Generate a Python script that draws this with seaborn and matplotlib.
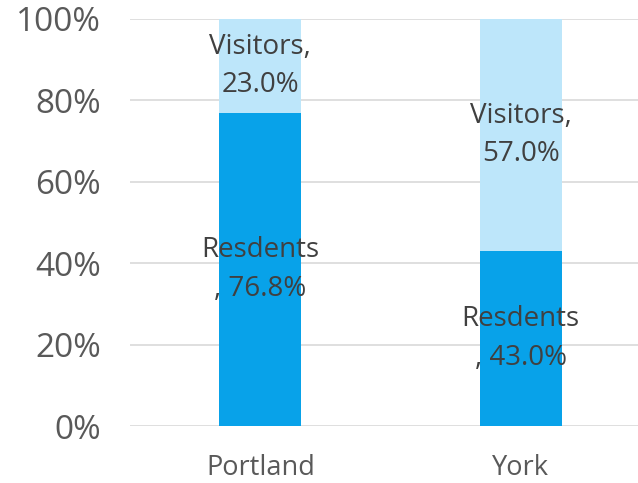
import numpy as np
import pandas as pd
import matplotlib
matplotlib.use("Agg")
import matplotlib.pyplot as plt
import seaborn as sns

# Data
cities = ["Portland", "York"]
residents = [76.8, 43.0]
visitors = [23.0, 57.0]

res = np.array(residents)
vis = np.array(visitors)
total = res + vis
res_pct = res / total * 100
top_pct = (res + vis) / total * 100

df = pd.DataFrame({"city": cities, "res": res_pct, "top": top_pct})

sns.set_style("white")
plt.rcParams["font.family"] = ["Open Sans", "DejaVu Sans"]

fig = plt.figure(figsize=(6.38, 4.83), dpi=100)
ax = fig.add_axes([0.204, 0.118, 0.796, 0.843])

dark = "#08A2E9"
light = "#BDE6FA"

# stacked: draw full height in light, then residents on top in dark
sns.barplot(data=df, x="city", y="top", color=light, width=0.315, ax=ax,
            saturation=1, linewidth=0, zorder=2)
sns.barplot(data=df, x="city", y="res", color=dark, width=0.315, ax=ax,
            saturation=1, linewidth=0, zorder=3)

ax.set_ylim(0, 100)
ax.set_xlim(-0.5, 1.45)
ax.set_yticks(range(0, 101, 20))
ax.set_yticklabels([f"{t}%" for t in range(0, 101, 20)])
ax.yaxis.grid(True, color="#D9D9D9", linewidth=1.2, zorder=0)
ax.set_axisbelow(True)
for s in ax.spines.values():
    s.set_visible(False)
ax.set_xlabel("")
ax.set_ylabel("")
ax.tick_params(axis="y", labelsize=24, colors="#595959", length=0, pad=21)
ax.tick_params(axis="x", labelsize=19.5, colors="#595959", length=0, pad=20)

lab_color = "#404040"
for i in range(len(cities)):
    ax.text(i, res_pct[i] / 2, f"Resdents\n, {residents[i]:.1f}%",
            ha="center", va="center", fontsize=20, color=lab_color,
            linespacing=1.5, zorder=5)
    ax.text(i, res_pct[i] + (top_pct[i] - res_pct[i]) / 2,
            f"Visitors,\n{visitors[i]:.1f}%",
            ha="center", va="center", fontsize=20, color=lab_color,
            linespacing=1.5, zorder=5)

fig.savefig("out.png", dpi=100)
